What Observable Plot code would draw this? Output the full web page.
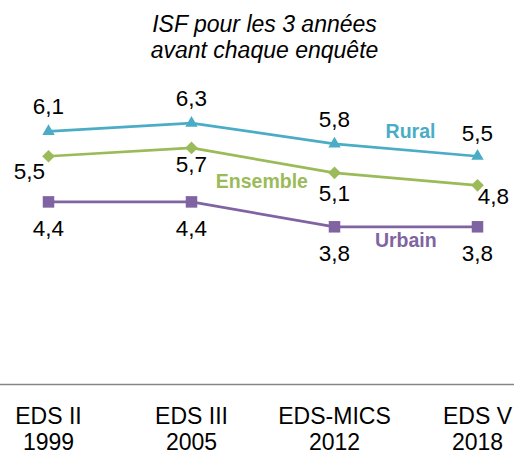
<!DOCTYPE html>
<html><head><meta charset="utf-8">
<script src="https://cdn.jsdelivr.net/npm/d3@7"></script>
<script src="https://cdn.jsdelivr.net/npm/@observablehq/plot@0.6"></script>
<style>html,body{margin:0;padding:0;background:#fff} svg{display:block}</style>
</head><body><div id="chart"></div>
<script>
// ---- data ----
const categories = ["EDS II\n1999", "EDS III\n2005", "EDS-MICS\n2012", "EDS V\n2018"];
const rural = [6.1, 6.3, 5.8, 5.5];
const ensemble = [5.5, 5.7, 5.1, 4.8];
const urbain = [4.4, 4.4, 3.8, 3.8];
const seriesNames = ["Rural", "Ensemble", "Urbain"];
const titleLines = ["ISF pour les 3 années", "avant chaque enquête"];

// ---- styling / layout (not data) ----
const colors = {Rural: "#4BACC6", Ensemble: "#9BBB59", Urbain: "#8064A2"};
const symbols = {Rural: "triangle", Ensemble: "diamond2", Urbain: "square"};
const radii = {Rural: 4.6, Ensemble: 5.7, Urbain: 6.5};
// value label nudges per point [dx, dy]
const labelNudge = {
  Rural: [[0, -25], [0, -24], [0, -24], [0, -22]],
  Ensemble: [[-19, 16], [0, 16.5], [0, 21], [16, 11]],
  Urbain: [[0, 27], [0, 27], [0, 27], [0, 27]]
};
// series name label: segment start index, [dx, dy]
const nameLabel = {Rural: [2, 76, -18], Ensemble: [1, 70.4, 21.4], Urbain: [2, 71.3, 14.4]};

const values = {Rural: rural, Ensemble: ensemble, Urbain: urbain};
const fmt = v => v.toFixed(1).replace(".", ",");
const rowsOf = name => values[name].map((v, i) => ({series: name, cat: categories[i], value: v, i}));

const font = "'Liberation Sans', Arial, sans-serif";
const marks = [Plot.ruleY([0], {stroke: "#868686", strokeWidth: 1.4})];

for (const name of seriesNames) {
  const rows = rowsOf(name);
  const c = colors[name];
  marks.push(Plot.line(rows, {x: "cat", y: "value", stroke: c, strokeWidth: 2.75}));
  marks.push(Plot.dot(rows, {x: "cat", y: "value", symbol: symbols[name], r: radii[name], fill: c, stroke: "none"}));
  rows.forEach((row, i) => {
    const [dx, dy] = labelNudge[name][i];
    marks.push(Plot.text([row], {x: "cat", y: "value", text: d => fmt(d.value), dx, dy, fontSize: 22.5, fill: "#000"}));
  });
  const [k, ndx, ndy] = nameLabel[name];
  const vs = values[name];
  marks.push(Plot.text([{cat: categories[k], y: (vs[k] + vs[k + 1]) / 2}], {
    x: "cat", y: "y", text: () => name, dx: ndx, dy: ndy,
    fontSize: 19.5, fontWeight: "bold", fill: c
  }));
}

// category labels below the axis line
marks.push(Plot.text(categories, {
  x: d => d, frameAnchor: "bottom", lineAnchor: "top", dy: 20.5,
  fontSize: 23, lineHeight: 1.15, fill: "#000"
}));

// title
marks.push(Plot.text([titleLines.join("\n")], {
  frameAnchor: "top", lineAnchor: "top", dx: 7, dy: 13,
  fontSize: 23, fontStyle: "italic", lineHeight: 1.13, fill: "#000"
}));

const chart = Plot.plot({
  width: 514, height: 452,
  marginLeft: 0, marginRight: 0, marginTop: 0, marginBottom: 68,
  style: {fontFamily: font, background: "#fff", color: "#000"},
  x: {type: "point", domain: categories, range: [48, 477], padding: 0, axis: null},
  y: {domain: [0, 7], range: [384, 93.5], axis: null},
  marks
});
document.getElementById("chart").appendChild(chart);
</script>
</body></html>
